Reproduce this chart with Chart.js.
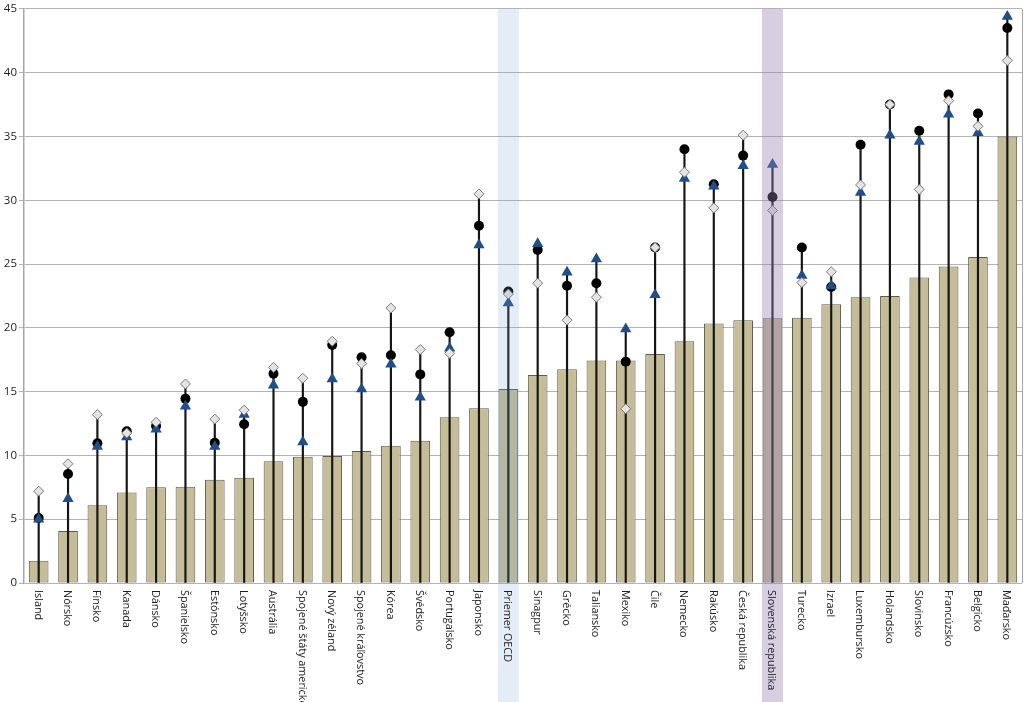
<!DOCTYPE html>
<html>
<head>
<meta charset="utf-8">
<script src="https://cdn.jsdelivr.net/npm/chart.js@4"></script>
<style>
  html, body { margin: 0; padding: 0; background: #fff; }
  #wrap { width: 1024px; height: 702px; position: relative; }
</style>
</head>
<body>
<div id="wrap"><canvas id="main-chart"></canvas></div>
<script>
const categories = [
  'Island', 'Nórsko', 'Fínsko', 'Kanada', 'Dánsko', 'Španielsko', 'Estónsko', 'Lotyšsko',
  'Austrália', 'Spojené štáty americké', 'Nový zéland', 'Spojené kráľovstvo', 'Kórea',
  'Švédsko', 'Portugalsko', 'Japonsko', 'Priemer OECD', 'Sinagpur', 'Grécko', 'Taliansko',
  'Mexiko', 'Čile', 'Nemecko', 'Rakúsko', 'Česká republika', 'Slovenská republika',
  'Turecko', 'Izrael', 'Luxembursko', 'Holandsko', 'Slovinsko', 'Francúzsko', 'Belgicko', 'Maďarsko'
];

const barValues = [
  1.75, 4.07, 6.1, 7.1, 7.5, 7.55, 8.1, 8.25, 9.55, 9.9, 9.95, 10.35, 10.75, 11.15, 13.0, 13.7,
  15.2, 16.3, 16.75, 17.45, 17.45, 17.95, 18.95, 20.35, 20.6, 20.75, 20.8, 21.85, 22.4, 22.5,
  23.95, 24.8, 25.55, 35.0
];

const circleValues = [
  5.1, 8.55, 10.95, 11.9, 12.3, 14.45, 11.0, 12.45, 16.4, 14.2, 18.65, 17.7, 17.85, 16.35, 19.65, 28.0,
  22.85, 26.1, 23.3, 23.5, 17.35, 26.3, 34.0, 31.25, 33.5, 30.25, 26.3, 23.2, 34.35, 37.5,
  35.45, 38.3, 36.8, 43.5
];

const triangleValues = [
  5.0, 6.6, 10.7, 11.45, 12.05, 13.85, 10.7, 13.2, 15.5, 11.05, 16.0, 15.2, 17.15, 14.55, 18.4, 26.5,
  21.95, 26.6, 24.35, 25.4, 19.9, 22.6, 31.7, 31.1, 32.7, 32.8, 24.1, 23.3, 30.6, 35.1,
  34.6, 36.75, 35.3, 44.4
];

const diamondValues = [
  7.2, 9.35, 13.2, 11.75, 12.6, 15.6, 12.85, 13.55, 16.9, 16.05, 18.95, 17.2, 21.55, 18.3, 18.0, 30.5,
  22.65, 23.5, 20.6, 22.4, 13.65, 26.3, 32.2, 29.4, 35.1, 29.2, 23.55, 24.4, 31.2, 37.5,
  30.85, 37.8, 35.8, 40.95
];

const yMin = 0;
const yMax = 45;
const yStep = 5;

// Stems run from zero up to the highest marker of each country
const stemValues = categories.map((c, i) =>
  [0, Math.max(circleValues[i], triangleValues[i], diamondValues[i])]);

const highlightBands = {
  'Priemer OECD':        'rgba(120,160,210,0.20)',
  'Slovenská republika': 'rgba(150,125,180,0.38)',
};

// Bands drawn over the columns, down through the label area
const bandPlugin = {
  id: 'bands',
  afterDatasetsDraw(chart) {
    const { ctx, chartArea, scales: { x } } = chart;
    ctx.save();
    categories.forEach((c, i) => {
      const color = highlightBands[c];
      if (!color) return;
      const cx = x.getPixelForValue(i);
      ctx.fillStyle = color;
      ctx.fillRect(cx - 10.5, chartArea.top, 21, chart.height - chartArea.top);
    });
    // right frame line
    ctx.strokeStyle = '#a6a6a6';
    ctx.lineWidth = 1;
    ctx.beginPath();
    ctx.moveTo(chartArea.right + 0.5, chartArea.top);
    ctx.lineTo(chartArea.right + 0.5, chartArea.bottom);
    ctx.stroke();
    ctx.restore();
  }
};

// Category labels read top to bottom (rotated clockwise)
const labelPlugin = {
  id: 'vlabels',
  afterDraw(chart) {
    const { ctx, chartArea, scales: { x } } = chart;
    ctx.save();
    ctx.font = '10.8px "Open Sans", sans-serif';
    ctx.fillStyle = '#1e1e1e';
    ctx.textAlign = 'left';
    ctx.textBaseline = 'middle';
    categories.forEach((c, i) => {
      ctx.save();
      ctx.translate(x.getPixelForValue(i) - 1, chartArea.bottom + 7);
      ctx.rotate(Math.PI / 2);
      ctx.fillText(c, 0, 0);
      ctx.restore();
    });
    ctx.restore();
  }
};

const canvas = document.getElementById('main-chart');

new Chart(canvas.getContext('2d'), {
  data: {
    labels: categories,
    datasets: [
      {
        type: 'bar',
        data: barValues,
        backgroundColor: '#c4bd97',
        borderColor: '#5f5b4c',
        borderWidth: 1,
        borderSkipped: false,
        grouped: false,
        barPercentage: 0.67,
        categoryPercentage: 1,
        order: 4,
      },
      {
        type: 'bar',
        data: stemValues,
        backgroundColor: '#151515',
        borderWidth: 0,
        grouped: false,
        barThickness: 1.5,
        order: 3,
      },
      {
        type: 'line',
        data: circleValues,
        showLine: false,
        pointStyle: 'circle',
        pointRadius: 5,
        pointBackgroundColor: '#000',
        pointBorderColor: '#000',
        pointBorderWidth: 0,
        order: 2,
      },
      {
        type: 'line',
        data: triangleValues,
        showLine: false,
        pointStyle: 'triangle',
        pointRadius: 6.5,
        pointBackgroundColor: '#1f4e89',
        pointBorderColor: '#1f4e89',
        pointBorderWidth: 0,
        order: 1,
      },
      {
        type: 'line',
        data: diamondValues,
        showLine: false,
        pointStyle: 'rectRot',
        pointRadius: 5,
        pointBackgroundColor: '#e4e4e4',
        pointBorderColor: '#7a7a7a',
        pointBorderWidth: 1,
        order: 0,
      },
    ]
  },
  options: {
    responsive: true,
    maintainAspectRatio: false,
    animation: false,
    layout: { autoPadding: false, padding: { top: 7, right: 2, left: 0, bottom: 0 } },
    plugins: {
      legend: { display: false },
      tooltip: { enabled: false },
    },
    scales: {
      x: {
        type: 'category',
        offset: true,
        grid: { display: false },
        border: { display: false },
        ticks: { display: false },
        afterFit(scale) { scale.height = 119; },
      },
      y: {
        min: yMin,
        max: yMax,
        ticks: {
          stepSize: yStep,
          color: '#1e1e1e',
          padding: 2,
          font: { family: '"Open Sans", sans-serif', size: 11.5 },
        },
        grid: { color: '#b3b3b3', lineWidth: 1, tickLength: 5 },
        border: { color: '#a6a6a6', width: 1.5 },
        afterFit(scale) { scale.width = 24; },
      }
    }
  },
  plugins: [bandPlugin, labelPlugin]
});
</script>
</body>
</html>
